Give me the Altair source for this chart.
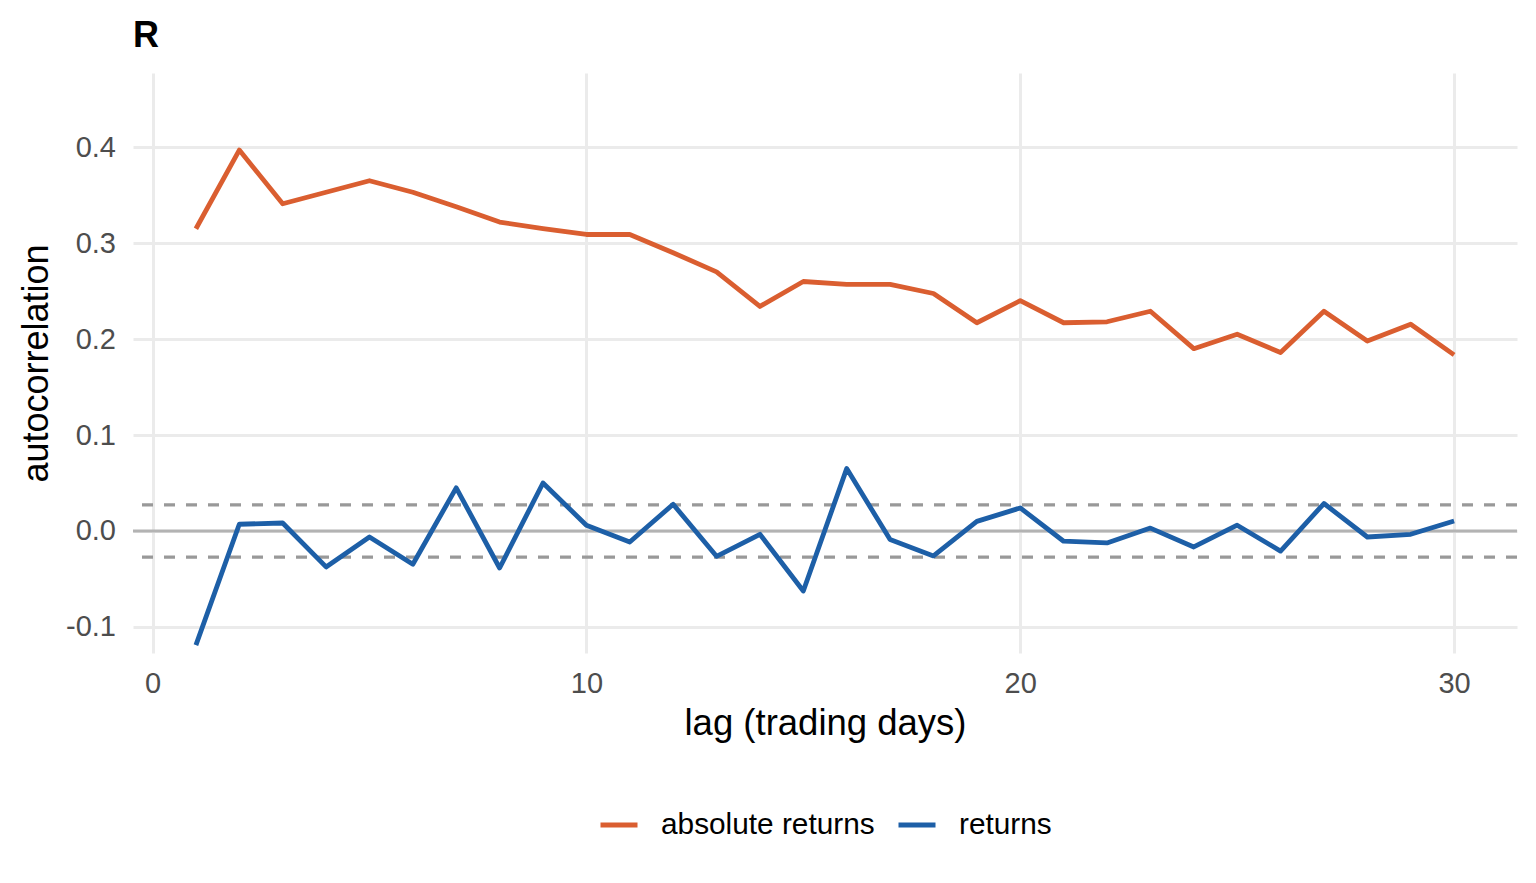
import altair as alt
import pandas as pd

# ---- data ----
lags = [1, 2, 3, 4, 5, 6, 7, 8, 9, 10, 11, 12, 13, 14, 15,
        16, 17, 18, 19, 20, 21, 22, 23, 24, 25, 26, 27, 28, 29, 30]
abs_returns = [0.315, 0.397, 0.341, 0.353, 0.365, 0.353, 0.338, 0.322, 0.315, 0.309,
               0.309, 0.290, 0.270, 0.234, 0.260, 0.257, 0.257, 0.2475, 0.217, 0.240,
               0.217, 0.218, 0.229, 0.190, 0.205, 0.186, 0.229, 0.198, 0.2155, 0.1835]
returns = [-0.119, 0.007, 0.0083, -0.0375, -0.0063, -0.0347, 0.0449, -0.0386, 0.050, 0.006,
           -0.0115, 0.0278, -0.0264, -0.0035, -0.0626, 0.065, -0.009, -0.026, 0.010, 0.024,
           -0.0107, -0.0125, 0.003, -0.0167, 0.006, -0.021, 0.0286, -0.0063, -0.0035, 0.0104]
series_names = ["absolute returns", "returns"]
series_colors = ["#DA5E30", "#1D5FA7"]
conf_band = [0.0272, -0.0272]
zero_level = [0.0]
x_ticks = [0, 10, 20, 30]
y_ticks = [-0.1, 0.0, 0.1, 0.2, 0.3, 0.4]

df = pd.DataFrame({
    "lag": lags + lags,
    "acf": abs_returns + returns,
    "series": [series_names[0]] * len(lags) + [series_names[1]] * len(lags),
})
zero_df = pd.DataFrame({"acf": zero_level})
band_df = pd.DataFrame({"acf": conf_band})

FONT = "Liberation Sans"
x_scale = alt.Scale(domain=[-0.45, 31.45], nice=False, zero=False)
y_scale = alt.Scale(domain=[-0.1272, 0.4773], nice=False, zero=False)

x_axis = alt.Axis(values=x_ticks, format="d", labelFontSize=29, labelFont=FONT,
                  labelColor="#4D4D4D", labelPadding=16.5, labelFlush=False,
                  ticks=False, tickSize=0, domain=False, grid=True,
                  gridColor="#EBEBEB", gridWidth=3,
                  title="lag (trading days)", titleFont=FONT, titleFontSize=36.5,
                  titleFontWeight="normal", titleColor="black",
                  titleX=692, titleY=81, titleBaseline="alphabetic",
                  titleAlign="center")
y_axis = alt.Axis(values=y_ticks,
                  labelExpr="datum.value < 0 ? '-' + format(-datum.value, '.1f') : format(datum.value, '.1f')",
                  labelFontSize=29, labelFont=FONT, labelColor="#4D4D4D",
                  labelPadding=17.5, labelFlush=False, ticks=False, tickSize=0,
                  domain=False, grid=True, gridColor="#EBEBEB", gridWidth=3,
                  title="autocorrelation", titleFont=FONT, titleFontSize=36,
                  titleFontWeight="normal", titleColor="black",
                  titleX=-86, titleY=290, titleAngle=270,
                  titleBaseline="alphabetic", titleAlign="center")

zero_rule = alt.Chart(zero_df).mark_rule(color="#B3B3B3", strokeWidth=3).encode(
    y=alt.Y("acf:Q", scale=y_scale, axis=y_axis)
)
band_rule = alt.Chart(band_df).mark_rule(color="#999999", strokeWidth=3.3, strokeDash=[11, 11]).encode(
    y=alt.Y("acf:Q", scale=y_scale, axis=y_axis)
)

lines = alt.Chart(df).mark_line(strokeWidth=4.8, strokeJoin="round").encode(
    x=alt.X("lag:Q", scale=x_scale, axis=x_axis),
    y=alt.Y("acf:Q", scale=y_scale, axis=y_axis),
    color=alt.Color("series:N",
                    scale=alt.Scale(domain=series_names, range=series_colors),
                    legend=alt.Legend(orient="none", legendX=465, legendY=731,
                                      direction="horizontal", title=None,
                                      symbolType="stroke", symbolSize=1369,
                                      symbolStrokeWidth=5, labelFontSize=29.8,
                                      labelFont=FONT, labelColor="black",
                                      labelLimit=500, labelOffset=21,
                                      columnPadding=13, padding=0)),
)

chart = alt.layer(zero_rule, band_rule, lines).properties(
    width=1384,
    height=580,
    padding={"left": 125, "top": 65, "right": 5, "bottom": 190},
    autosize=alt.AutoSizeParams(type="none"),
    title=alt.Title("R", anchor="start", frame="group", fontSize=36, fontWeight="bold",
                    font=FONT, color="black", offset=18),
).configure_view(stroke=None)

chart.save("out.html", embed_options={"renderer": "svg", "actions": False})
